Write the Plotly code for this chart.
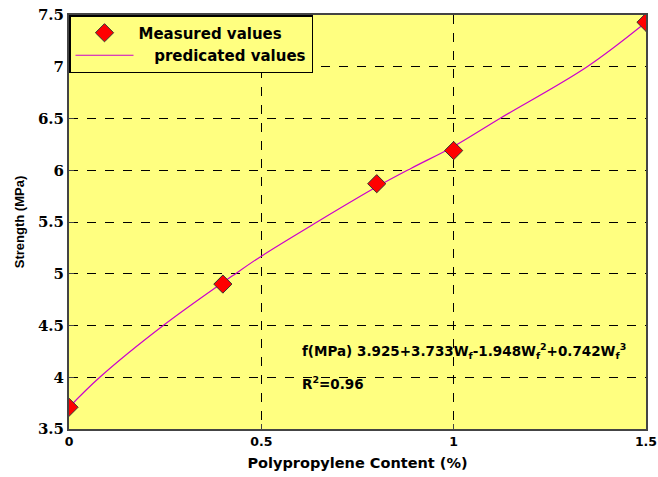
import plotly.graph_objects as go

# Measured values
meas_x = [0, 0.4, 0.8, 1.0, 1.5]
meas_y = [3.71, 4.90, 5.87, 6.19, 7.43]

# Predicated curve
pred_x = [0, 0.08, 0.245, 0.425, 0.5, 0.645, 0.8, 0.89, 1.0, 1.12, 1.347, 1.5]
pred_y = [3.71, 4.0, 4.5, 4.98, 5.17, 5.5, 5.84, 6.02, 6.23, 6.5, 7.0, 7.43]

x_ticks = [0, 0.5, 1, 1.5]
x_labels = ["0", "0.5", "1", "1.5"]
y_ticks = [3.5, 4, 4.5, 5, 5.5, 6, 6.5, 7, 7.5]
y_labels = ["3.5", "4", "4.5", "5", "5.5", "6", "6.5", "7", "7.5"]

eq_text = ("<b>f(MPa) 3.925+3.733W<sub>f</sub>-1.948W<sub>f</sub><sup>2</sup>"
           "+0.742W<sub>f</sub><sup>3</sup></b>")
r2_text = "<b>R<sup>2</sup>=0.96</b>"

SANS = "DejaVu Sans"
fig = go.Figure()
fig.add_trace(go.Scatter(
    x=pred_x, y=pred_y, mode="lines", line_shape="spline",
    name="\u00a0\u00a0\u00a0predicated values",
    line=dict(color="#CC00CC", width=1.2), legendrank=2,
))
fig.add_trace(go.Scatter(
    x=meas_x, y=meas_y, mode="markers", name="Measured values",
    marker=dict(symbol="diamond", size=14, color="#FF0000",
                line=dict(color="#333333", width=1)),
    legendrank=1,
))

axis_common = dict(
    showgrid=True, gridcolor="black", griddash="dash", gridwidth=1,
    showline=True, linecolor="#444444", linewidth=2, mirror=True,
    ticks="inside", ticklen=5, tickcolor="#444444", zeroline=False,
    automargin=False,
)

fig.update_layout(
    width=658, height=477,
    margin=dict(l=69, r=12, t=15, b=48),
    paper_bgcolor="white", plot_bgcolor="#FFFF80",
    font=dict(family=SANS, color="black"),
    showlegend=True,
    legend=dict(x=0.0, y=1.0, xanchor="left", yanchor="top",
                bgcolor="#FFFF80", bordercolor="black", borderwidth=1.5,
                font=dict(size=15, family=SANS, weight="bold"),
                itemwidth=58, tracegroupgap=0),
    xaxis=dict(range=[0, 1.5], tickvals=x_ticks, ticktext=x_labels,
               tickfont=dict(size=12.5, family=SANS, weight="bold"),
               title=dict(text="<b>Polypropylene Content (%)</b>",
                          font=dict(size=14.5, family=SANS), standoff=10),
               **axis_common),
    yaxis=dict(range=[3.5, 7.5], tickvals=y_ticks, ticktext=y_labels,
               tickfont=dict(size=15, family="DejaVu Serif", weight="bold"),
               title=dict(text="<b>Strength (MPa)</b>",
                          font=dict(size=13, family="Liberation Sans"),
                          standoff=10),
               **axis_common),
    annotations=[
        dict(x=0.6, y=4.25, xref="x", yref="y", text=eq_text, showarrow=False,
             xanchor="left", yanchor="middle", font=dict(size=13.5, family=SANS)),
        dict(x=0.6, y=3.94, xref="x", yref="y", text=r2_text, showarrow=False,
             xanchor="left", yanchor="middle", font=dict(size=13.5, family=SANS)),
    ],
)

fig.write_html("out.html", config={"displayModeBar": False},
               post_script="document.body.style.margin='0';")
